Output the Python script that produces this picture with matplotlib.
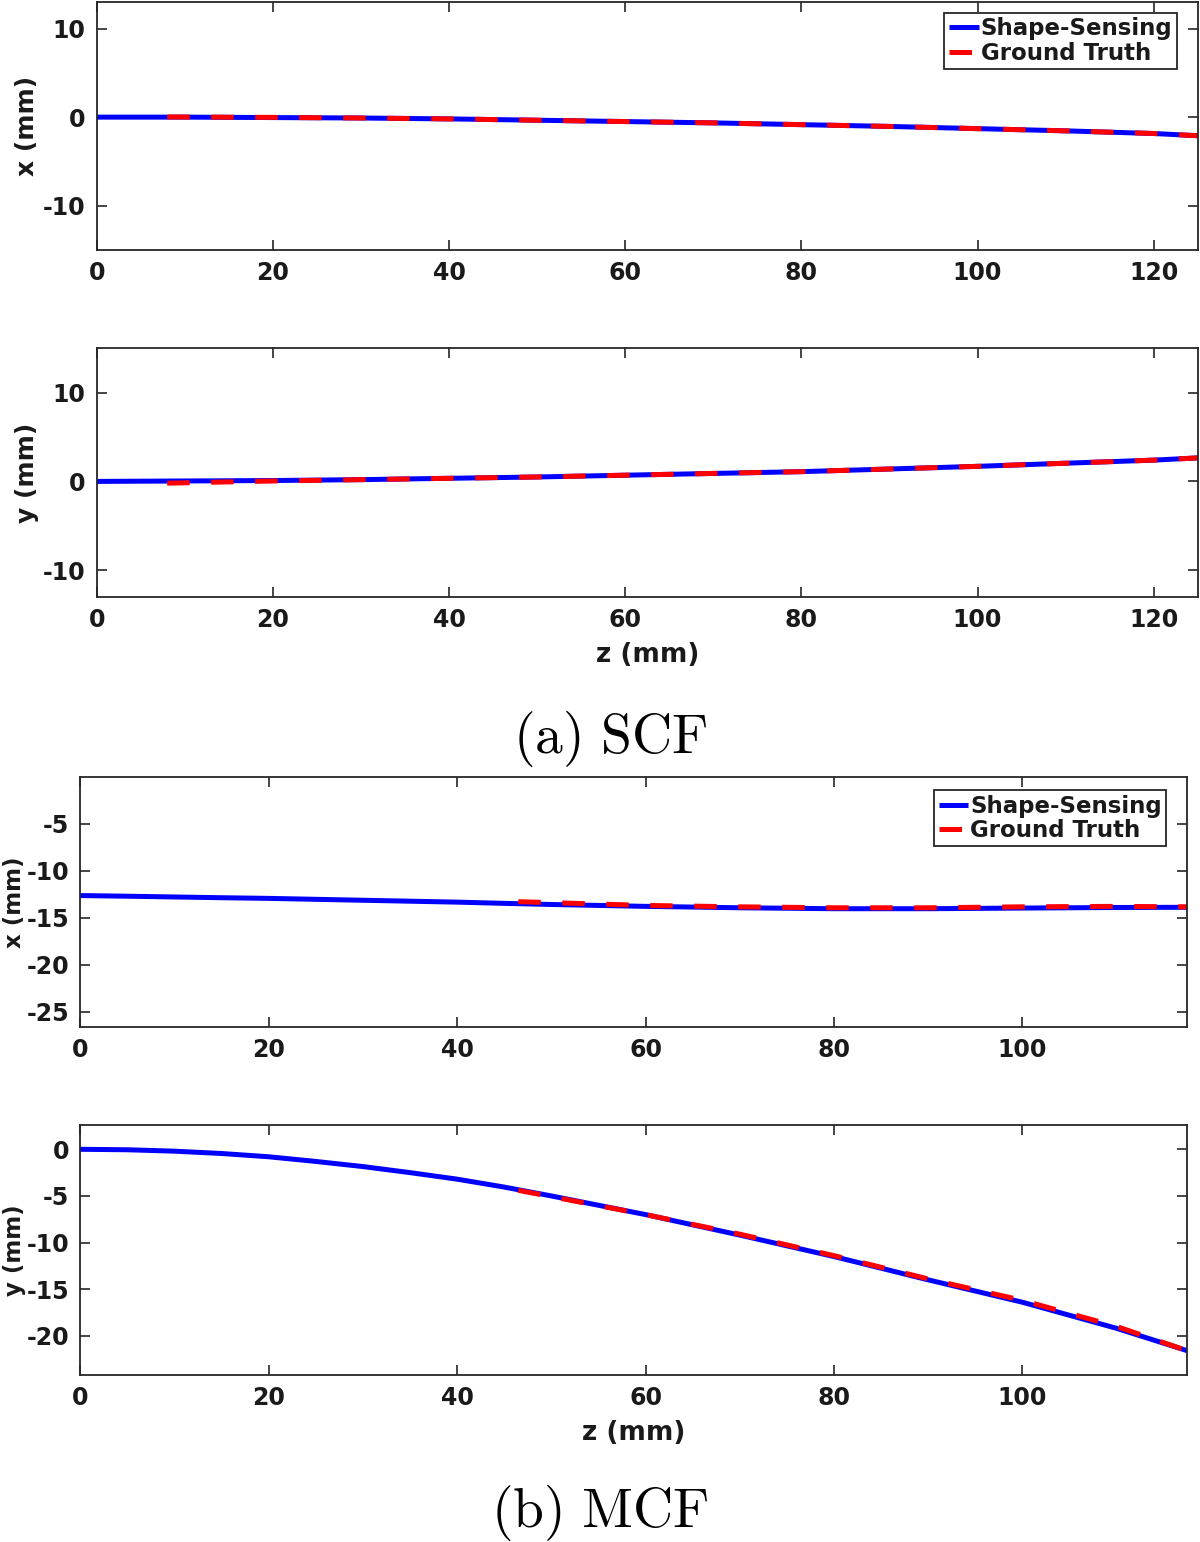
import numpy as np
import matplotlib
matplotlib.use("Agg")
import matplotlib.pyplot as plt

plt.rcParams['font.family'] = ['DejaVu Sans']
plt.rcParams['font.weight'] = 'bold'
plt.rcParams['mathtext.fontset'] = 'cm'
plt.rcParams['axes.unicode_minus'] = False

# (a) SCF
z_scf = [0, 10, 20, 30, 40, 50, 60, 70, 80, 90, 100, 110, 120, 125]
x_scf_ss = [0, 0, -0.05, -0.1, -0.2, -0.35, -0.5, -0.65, -0.85, -1.05, -1.3, -1.55, -1.85, -2.1]
y_scf_ss = [0, 0.05, 0.1, 0.2, 0.35, 0.5, 0.7, 0.9, 1.1, 1.4, 1.7, 2.05, 2.4, 2.65]
z_scf_gt = [8, 20, 30, 40, 50, 60, 70, 80, 90, 100, 110, 120, 125]
x_scf_gt = [0.02, -0.03, -0.1, -0.2, -0.35, -0.5, -0.65, -0.85, -1.05, -1.3, -1.55, -1.85, -2.1]
y_scf_gt = [-0.2, 0.05, 0.2, 0.35, 0.5, 0.7, 0.9, 1.1, 1.4, 1.7, 2.05, 2.4, 2.65]

# (b) MCF
z_mcf = [0, 5, 10, 15, 20, 25, 30, 35, 40, 45, 50, 60, 70, 80, 90, 100, 110, 117.5]
x_mcf_ss = [-12.65, -12.72, -12.8, -12.88, -12.95, -13.05, -13.15, -13.25, -13.35, -13.48,
            -13.6, -13.8, -13.95, -14.05, -14.05, -13.98, -13.92, -13.9]
y_mcf_ss = [0, -0.05, -0.2, -0.45, -0.8, -1.3, -1.85, -2.5, -3.2, -4.05,
            -5.0, -7.0, -9.2, -11.5, -14.0, -16.4, -19.2, -21.6]
z_mcf_gt = [46.5, 60, 70, 80, 90, 100, 110, 117.5]
x_mcf_gt = [-13.3, -13.7, -13.85, -13.95, -13.95, -13.85, -13.8, -13.85]
y_mcf_gt = [-4.4, -7.0, -9.1, -11.4, -13.9, -16.2, -19.0, -21.6]

fig = plt.figure(figsize=(12, 15.42), dpi=100)
ax1 = fig.add_axes([0.0806, 0.8379, 0.9175, 0.1608])
ax2 = fig.add_axes([0.0806, 0.6130, 0.9175, 0.1611])
ax3 = fig.add_axes([0.0667, 0.3338, 0.9228, 0.1625])
ax4 = fig.add_axes([0.0667, 0.1083, 0.9228, 0.1621])

panels = [
    (ax1, z_scf, x_scf_ss, z_scf_gt, x_scf_gt, 'x (mm)', (0, 125), (-15, 13), [-10, 0, 10], range(0, 121, 20), (0.981, 0.956)),
    (ax2, z_scf, y_scf_ss, z_scf_gt, y_scf_gt, 'y (mm)', (0, 125), (-13, 15), [-10, 0, 10], range(0, 121, 20), None),
    (ax3, z_mcf, x_mcf_ss, z_mcf_gt, x_mcf_gt, 'x (mm)', (0, 117.5), (-26.67, 0), [-25, -20, -15, -10, -5], range(0, 101, 20), (0.981, 0.947)),
    (ax4, z_mcf, y_mcf_ss, z_mcf_gt, y_mcf_gt, 'y (mm)', (0, 117.5), (-24.2, 2.6), [-20, -15, -10, -5, 0], range(0, 101, 20), None),
]

for ax, z, ss, zg, gt, ylab, xl, yl, yt, xt, leg in panels:
    ax.plot(z, ss, color='#0000ff', lw=3.6, label='Shape-Sensing', solid_capstyle='butt')
    ax.plot(zg, gt, color='#ff0000', lw=3.6, dashes=(4.5, 4.3), label='Ground Truth', dash_capstyle='butt')
    ax.set_xlim(*xl)
    ax.set_ylim(*yl)
    ax.set_yticks(yt)
    ax.set_xticks(list(xt))
    ax.tick_params(direction='in', top=True, right=True, length=7, width=1.2,
                   labelsize=17, pad=8, color='#262626')
    for lab in ax.get_xticklabels() + ax.get_yticklabels():
        lab.set_fontweight('bold')
        lab.set_color('#1a1a1a')
    for sp in ax.spines.values():
        sp.set_linewidth(1.3)
        sp.set_color('#262626')
    top = ax in (ax1, ax2)
    ax.set_ylabel(ylab, fontsize=18 if top else 16.5, fontweight='bold', color='#1a1a1a')
    ax.yaxis.set_label_coords(-0.052 if top else -0.049, 0.5)
    if leg is not None:
        lg = ax.legend(loc='upper right', bbox_to_anchor=leg, borderaxespad=0,
                       fontsize=16.5, handlelength=1.3, handletextpad=0.08,
                       borderpad=0.2, labelspacing=0.05, fancybox=False, framealpha=1,
                       edgecolor='#262626')
        lg.get_frame().set_linewidth(1.3)
        for t in lg.get_texts():
            t.set_fontweight('bold')
            t.set_color('#1a1a1a')
    else:
        ax.set_xlabel('z (mm)', fontsize=19, fontweight='bold', labelpad=7, color='#1a1a1a')

fig.text(0.508, 0.521, r'$\mathrm{(a)\ SCF}$', fontsize=40, ha='center', va='center')
fig.text(0.500, 0.019, r'$\mathrm{(b)\ MCF}$', fontsize=40, ha='center', va='center')

fig.savefig('out.png', dpi=100)
